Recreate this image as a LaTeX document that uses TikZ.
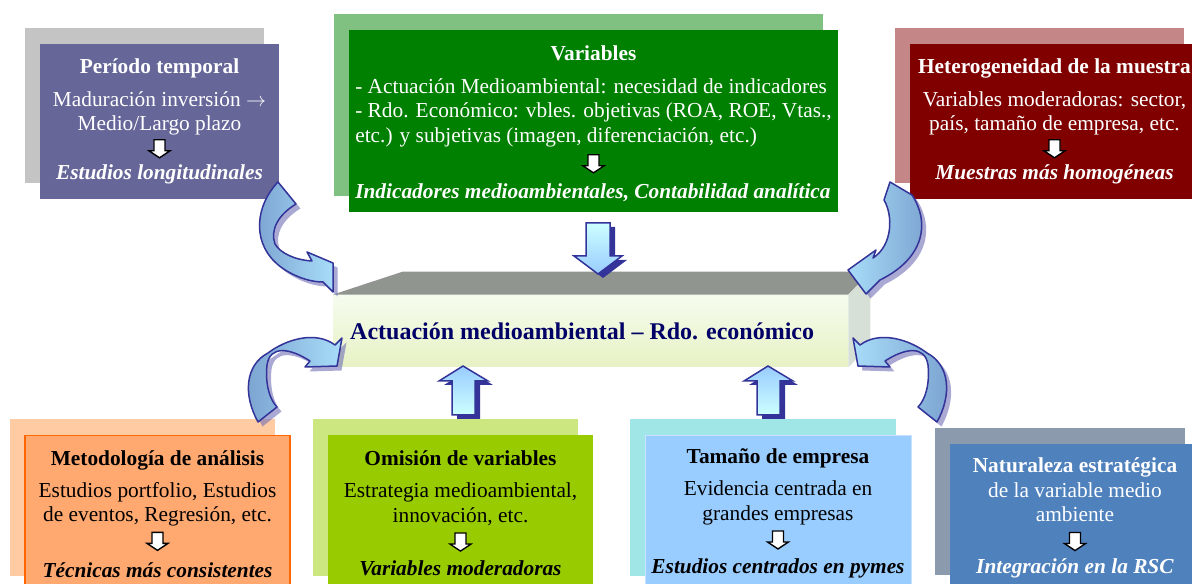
\documentclass[tikz,border=0pt]{standalone}
\usepackage{fontspec}
\setmainfont{Liberation Serif}
\usepackage[HTML]{xcolor}
\usetikzlibrary{positioning, shadows, calc}

\definecolor{temporalfill}{HTML}{666699}
\definecolor{temporalshade}{HTML}{C4C4C4}
\definecolor{variablesfill}{HTML}{008000}
\definecolor{variablesshade}{HTML}{80C080}
\definecolor{heterofill}{HTML}{800000}
\definecolor{heteroshade}{HTML}{C48686}
\definecolor{metodofill}{HTML}{FFA870}
\definecolor{metodoshade}{HTML}{FFCBA2}
\definecolor{metodoline}{HTML}{FF6600}
\definecolor{omisionfill}{HTML}{99CC00}
\definecolor{omisionshade}{HTML}{CCE680}
\definecolor{tamanofill}{HTML}{99CCFF}
\definecolor{tamanoshade}{HTML}{A0E6E6}
\definecolor{tamanoline}{HTML}{C8E2FF}
\definecolor{naturafill}{HTML}{4F81BD}
\definecolor{naturashade}{HTML}{8C9AAE}
\definecolor{corefronttop}{HTML}{F5FCEF}
\definecolor{corefrontbot}{HTML}{E6F2C4}
\definecolor{coretop}{HTML}{909590}
\definecolor{coreside}{HTML}{D6E0D6}
\definecolor{coretext}{HTML}{000066}
\definecolor{arrline}{HTML}{333399}
\definecolor{arrdark}{HTML}{7AA2CF}
\definecolor{arrlight}{HTML}{A8DCF8}
\definecolor{arrshadow}{HTML}{7070B8}
\definecolor{arrcyan}{HTML}{CCFFFF}
\definecolor{arrblue}{HTML}{99CCFF}

% small hollow arrow inside the boxes
\newcommand{\smallarrow}{\tikz[baseline=1.5pt, x=1pt, y=1pt]\draw[black, fill=white, line width=0.8pt]
  (-3.3,10.8) -- (3.3,10.8) -- (3.3,4.2) -- (6.3,4.2) -- (0,0) -- (-6.3,4.2) -- (-3.3,4.2) -- cycle;}

\begin{document}
\begin{tikzpicture}[x=0.6pt, y=-0.6pt,
  box/.style={rectangle, inner sep=2pt, align=center, font=\fontsize{12.8}{14.7}\selectfont},
  backshade/.style={general shadow={shadow xshift=-9pt, shadow yshift=9.6pt, fill=#1}},
  curvearrow/.style={draw=arrline, line width=0.9pt, line join=round,
    drop shadow={shadow xshift=2.7pt, shadow yshift=-2.7pt, fill=arrshadow, opacity=0.6}},
  blockarrow/.style={draw=arrline, line width=0.9pt,
    drop shadow={shadow xshift=3pt, shadow yshift=-2.4pt, fill=arrline, opacity=1}}]
\useasboundingbox (0,0) rectangle (1192,584);

% Top boxes
\node[box, fill=temporalfill, text=white, backshade=temporalshade,
  minimum width=143.4pt, minimum height=93pt] (temporal) at (159.5,121.5)
  {\textbf{Período temporal}\\[5pt]Maduración inversión $\rightarrow$\\Medio/Largo plazo\\\smallarrow\\\textbf{\textit{Estudios longitudinales}}};
\node[box, fill=variablesfill, text=white, backshade=variablesshade,
  minimum width=293.4pt, minimum height=109.2pt] (variables) at (593.5,121) {};
\node[box, text=white] (variablestext) at (593.5,124.5)
  {\begin{tabular}{@{}l@{}}
   \multicolumn{1}{@{}c@{}}{\textbf{Variables}}\\[5pt]
   - Actuación Medioambiental: necesidad de indicadores\\
   - Rdo. Económico: vbles. objetivas (ROA, ROE, Vtas.,\\
   etc.) y subjetivas (imagen, diferenciación, etc.)\\[2pt]
   \multicolumn{1}{@{}c@{}}{\smallarrow}\\[2pt]
   \textbf{\textit{Indicadores medioambientales, Contabilidad analítica}}
   \end{tabular}};
\node[box, fill=heterofill, text=white, backshade=heteroshade,
  minimum width=173.4pt, minimum height=93pt] (hetero) at (1054.5,121.5)
  {\textbf{Heterogeneidad de la muestra}\\[5pt]Variables moderadoras: sector,\\país, tamaño de empresa, etc.\\\smallarrow\\\textbf{\textit{Muestras más homogéneas}}};

% Bottom boxes
\node[box, fill=metodofill, draw=metodoline, line width=0.9pt, backshade=metodoshade,
  minimum width=159pt, minimum height=94.2pt] (metodo) at (157.5,514)
  {\textbf{Metodología de análisis}\\[4.5pt]Estudios portfolio, Estudios\\de eventos, Regresión, etc.\\[1pt]\smallarrow\\[3pt]\textbf{\textit{Técnicas más consistentes}}};
\node[box, fill=omisionfill, backshade=omisionshade,
  minimum width=159pt, minimum height=94.2pt] (omision) at (460.5,513.5)
  {\textbf{Omisión de variables}\\[4.5pt]Estrategia medioambiental,\\innovación, etc.\\[1pt]\smallarrow\\[1.5pt]\textbf{\textit{Variables moderadoras}}};
\node[box, fill=tamanofill, draw=tamanoline, backshade=tamanoshade,
  minimum width=159.6pt, minimum height=94.2pt] (tamano) at (778,513.5)
  {\textbf{Tamaño de empresa}\\[4.5pt]Evidencia centrada en\\grandes empresas\\[1pt]\smallarrow\\[1.5pt]\textbf{\textit{Estudios centrados en pymes}}};
\node[box, fill=naturafill, text=white, backshade=naturashade,
  minimum width=150pt, minimum height=88.2pt] (natura) at (1075,518)
  {\textbf{Naturaleza estratégica}\\de la variable medio\\ambiente\\[1pt]\smallarrow\\[0.5pt]\textbf{\textit{Integración en la RSC}}};

% Central 3D box
\node[rectangle, top color=corefronttop, bottom color=corefrontbot, text=coretext,
  font=\fontsize{14.4}{17}\selectfont\bfseries,
  minimum width=309pt, minimum height=43.2pt] (core) at (590.5,331)
  {Actuación medioambiental -- Rdo. económico\hspace*{10pt}};
\fill[coretop] (core.north west) -- ++(70,-23) -- ($(core.north east)+(22,-23)$) -- (core.north east) -- cycle;
\fill[coreside] (core.north east) -- ++(22,-23) -- ++(0,73) -- (core.south east) -- cycle;

% Straight block arrows
\draw[blockarrow, top color=arrcyan, bottom color=arrblue]
  (586,223) -- (610,223) -- (610,256) -- (622,256) -- (598,274) -- (574,256) -- (586,256) -- cycle;
\draw[blockarrow, top color=arrblue, bottom color=arrcyan]
  (452,415) -- (452,381) -- (439,381) -- (463,366) -- (488,381) -- (475,381) -- (475,415) -- cycle;
\draw[blockarrow, top color=arrblue, bottom color=arrcyan]
  (757,415) -- (757,381) -- (744,381) -- (768,366) -- (793,381) -- (780,381) -- (780,415) -- cycle;

% Curved arrows
\draw[curvearrow, left color=arrdark, right color=arrlight]
  (278,182) .. controls (256,205) and (252,240) .. (275,262)
  .. controls (285,272) and (305,282) .. (323,282)
  -- (333,292) -- (333,263) -- (307,252) -- (312,261)
  .. controls (295,260) and (280,253) .. (275,244)
  .. controls (270,230) and (278,215) .. (296,204) -- cycle;
\draw[curvearrow, left color=arrlight, right color=arrdark]
  (890,182) -- (912,195)
  .. controls (930,222) and (925,258) .. (880,280)
  -- (866,294) -- (848,270) -- (876,250) -- (873,258)
  .. controls (893,245) and (893,215) .. (884,200) -- cycle;
\draw[curvearrow, left color=arrdark, right color=arrlight]
  (258,422) .. controls (243,395) and (245,365) .. (268,353)
  .. controls (285,340) and (315,330) .. (335,345)
  -- (342,338) -- (337,366) -- (305,367) -- (310,361)
  .. controls (290,348) and (270,345) .. (267,365)
  .. controls (265,385) and (270,400) .. (277,407) -- cycle;
\draw[curvearrow, left color=arrlight, right color=arrdark]
  (937,422) .. controls (952,395) and (950,365) .. (927,353)
  .. controls (910,340) and (880,330) .. (860,345)
  -- (853,338) -- (858,366) -- (890,367) -- (885,361)
  .. controls (905,348) and (925,345) .. (928,365)
  .. controls (930,385) and (925,400) .. (918,407) -- cycle;
\end{tikzpicture}
\end{document}
